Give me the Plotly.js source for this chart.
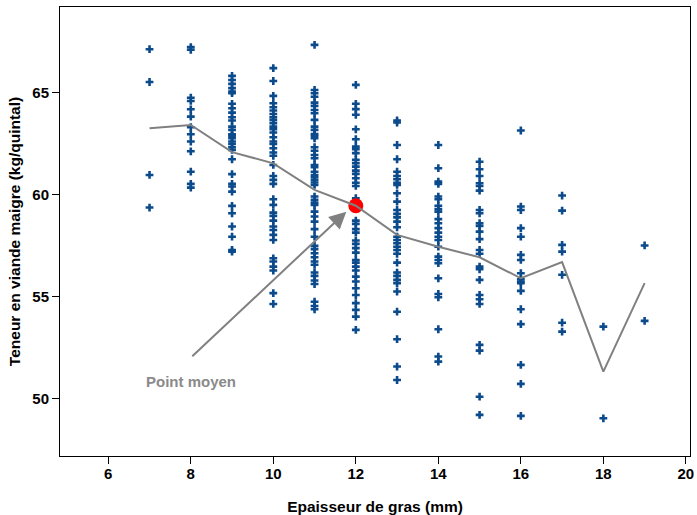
<!DOCTYPE html>
<html>
<head>
<meta charset="utf-8">
<script src="https://cdn.plot.ly/plotly-3.0.1.min.js"></script>
<style>html,body{margin:0;padding:0;background:#fff}#chart{width:697px;height:515px}</style>
</head>
<body>
<div id="chart"></div>
<script>
// Epaisseur de gras (mm) -> teneur en viande maigre (kg/quintal)
const y7 = [67.13, 65.52, 60.96, 59.36];
const y8 = [67.23, 67.1, 64.75, 64.59, 64.18, 63.82, 63.30, 62.96, 62.6, 62.12, 61.12, 60.52, 60.34];
const y9 = [65.82, 65.62, 65.43, 65.22, 65.05, 64.97, 64.45, 64.23, 64.02, 63.79, 63.63, 63.33, 63.17, 62.96, 62.88, 62.76, 62.6, 62.48, 62.32, 62.19, 61.73, 61.0, 60.52, 60.39, 60.14, 59.44, 59.08, 58.43, 57.93, 57.28, 57.2];
const y10 = [66.2, 65.57, 64.84, 64.48, 64.28, 64.12, 63.95, 63.79, 63.66, 63.5, 63.33, 63.2, 63.04, 62.81, 62.6, 62.48, 62.27, 62.06, 61.9, 61.45, 60.91, 60.72, 60.52, 59.77, 59.49, 59.11, 58.95, 58.72, 58.43, 58.26, 58.02, 57.77, 56.87, 56.71, 56.46, 56.27, 55.16, 54.63];
const y11 = [67.34, 65.13, 64.97, 64.8, 64.51, 64.35, 64.15, 63.99, 63.66, 63.33, 63.17, 62.97, 62.88, 62.76, 62.32, 62.15, 61.94, 61.78, 61.45, 61.34, 61.12, 60.96, 60.85, 60.72, 60.59, 60.47, 59.9, 59.74, 59.6, 59.49, 59.16, 58.92, 58.67, 58.3, 57.93, 57.48, 57.32, 57.12, 56.92, 56.71, 56.55, 56.17, 56.01, 55.78, 55.61, 54.74, 54.53, 54.37];
const y12 = [65.38, 64.45, 64.19, 63.91, 63.2, 62.71, 62.35, 62.22, 62.03, 61.7, 61.53, 61.37, 61.17, 61.01, 60.8, 60.58, 60.42, 59.82, 58.72, 58.56, 58.3, 58.13, 57.74, 57.58, 57.37, 57.15, 56.79, 56.66, 56.46, 56.27, 55.97, 55.73, 55.4, 55.07, 54.67, 54.34, 54.01, 53.36];
const y13 = [63.63, 63.53, 62.43, 61.73, 61.12, 60.91, 60.75, 60.58, 60.47, 60.06, 59.65, 59.24, 59.05, 58.88, 58.67, 58.39, 57.93, 57.77, 57.61, 57.44, 57.28, 57.09, 56.66, 56.17, 56.01, 55.81, 55.65, 55.24, 54.25, 52.9, 51.56, 50.9];
const y14 = [62.43, 61.29, 60.63, 60.52, 59.9, 59.77, 59.44, 59.28, 59.16, 58.79, 58.59, 58.35, 58.13, 57.93, 57.77, 57.44, 56.95, 56.79, 56.63, 55.89, 55.12, 54.96, 53.39, 52.05, 51.8];
const y15 = [61.61, 61.24, 60.91, 60.55, 60.42, 60.19, 59.24, 59.08, 58.59, 58.46, 58.18, 57.81, 57.28, 57.09, 56.46, 56.33, 55.81, 55.07, 54.86, 54.63, 52.62, 52.34, 50.08, 49.19];
const y16 = [63.14, 59.41, 59.24, 58.35, 57.93, 57.04, 56.79, 56.14, 55.84, 55.73, 55.65, 55.27, 54.37, 53.64, 51.64, 50.71, 49.14];
const y17 = [59.95, 59.21, 57.53, 57.2, 56.06, 53.71, 53.27];
const y18 = [53.52, 49.02];
const y19 = [57.5, 53.8];

const epaisseurs = [7, 8, 9, 10, 11, 12, 13, 14, 15, 16, 17, 18, 19];
const groupes = [y7, y8, y9, y10, y11, y12, y13, y14, y15, y16, y17, y18, y19];
const moyennes = [63.25, 63.41, 62.08, 61.53, 60.23, 59.45, 58.02, 57.44, 56.92, 55.89, 56.68, 51.31, 55.65];
const pointMoyenX = [12];
const pointMoyenY = [59.45];
const flecheDepart = [8, 52.0];
const flecheArrivee = [11.77, 59.16];
const xTicks = [6, 8, 10, 12, 14, 16, 18, 20];
const yTicks = [50, 55, 60, 65];

const px = [], py = [];
groupes.forEach((g, i) => g.forEach(v => { px.push(epaisseurs[i]); py.push(v); }));

const F = 'Liberation Sans, Arial, Helvetica, sans-serif';

const traces = [
  {x: px, y: py, type: 'scatter', mode: 'markers',
   marker: {symbol: 'cross', size: 6.5, color: '#0b4a8b', line: {width: 0}}, hoverinfo: 'skip'},
  {x: pointMoyenX, y: pointMoyenY, type: 'scatter', mode: 'markers',
   marker: {symbol: 'circle', size: 15, color: '#ff0000', line: {width: 0}}},
  {x: epaisseurs, y: moyennes, type: 'scatter', mode: 'lines',
   line: {color: '#808080', width: 2}}
];

const layout = {
  width: 697, height: 515,
  margin: {l: 60, r: 7, t: 7, b: 59},
  showlegend: false,
  paper_bgcolor: '#fff', plot_bgcolor: '#fff',
  font: {family: F, size: 15, color: '#000'},
  xaxis: {
    range: [4.83, 20.1], tickvals: xTicks, ticktext: xTicks.map(String),
    showgrid: false, zeroline: false, showline: true, mirror: true,
    linecolor: '#000', linewidth: 1, ticks: 'outside', ticklen: 7, tickcolor: '#000',
    ticklabelstandoff: -3,
    tickfont: {family: F, size: 15, weight: 'bold'},
    title: {text: 'Epaisseur de gras (mm)', font: {family: F, size: 15.5, weight: 'bold'}, standoff: 20}
  },
  yaxis: {
    range: [47.17, 69.2], tickvals: yTicks, ticktext: yTicks.map(String),
    showgrid: false, zeroline: false, showline: true, mirror: true,
    linecolor: '#000', linewidth: 1, ticks: 'outside', ticklen: 7, tickcolor: '#000',
    tickfont: {family: F, size: 15, weight: 'bold'},
    title: {text: 'Teneur en viande maigre (kg/quintal)', font: {family: F, size: 15.5, weight: 'bold'}, standoff: 7}
  },
  annotations: [
    {x: flecheArrivee[0], y: flecheArrivee[1], xref: 'x', yref: 'y',
     ax: flecheDepart[0], ay: flecheDepart[1], axref: 'x', ayref: 'y',
     showarrow: true, arrowhead: 2, arrowsize: 1.7, arrowwidth: 2, arrowcolor: '#808080', text: ''},
    {x: 8, y: 50.85, xref: 'x', yref: 'y', text: 'Point moyen', showarrow: false,
     font: {family: F, size: 15, weight: 'bold', color: '#8a8a8a'}}
  ]
};

Plotly.newPlot('chart', traces, layout, {staticPlot: true, displayModeBar: false});
</script>
</body>
</html>
